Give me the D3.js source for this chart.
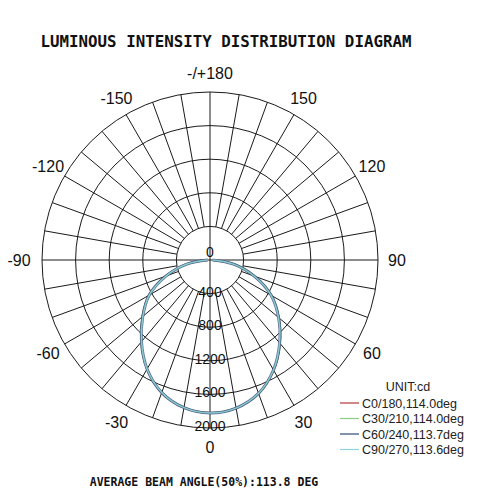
<!DOCTYPE html>
<html>
<head>
<meta charset="utf-8">
<script src="https://cdn.jsdelivr.net/npm/d3@7"></script>
<style>
    body { margin: 0; background: #fff; }
    svg { display: block; }
</style>
</head>
<body>
<div id="chart"></div>
<script>
// angles are measured from nadir (0 = straight down), positive to the right
const angles = [-90, -80, -70, -60, -50, -40, -30, -20, -10, 0, 10, 20, 30, 40, 50, 60, 70, 80, 90];
const c0_180  = [30, 285, 560, 840, 1050, 1275, 1500, 1680, 1785, 1820, 1790, 1690, 1515, 1295, 1070, 845, 565, 290, 35];
const c30_210 = [30, 285, 560, 840, 1050, 1275, 1500, 1680, 1785, 1820, 1790, 1690, 1515, 1295, 1070, 845, 565, 290, 35];
const c60_240 = [25, 280, 555, 835, 1045, 1270, 1498, 1680, 1785, 1822, 1790, 1690, 1512, 1290, 1065, 840, 560, 285, 30];
const c90_270 = [25, 278, 553, 833, 1043, 1268, 1498, 1678, 1785, 1822, 1790, 1688, 1512, 1288, 1063, 838, 558, 282, 30];

const seriesNames = ['C0/180,114.0deg', 'C30/210,114.0deg', 'C60/240,113.7deg', 'C90/270,113.6deg'];
const seriesColors = ['#b8383a', '#8ccb86', '#33487a', '#8fd4dc'];
const seriesValues = [c0_180, c30_210, c60_240, c90_270];

const ringValues = [400, 800, 1200, 1600, 2000];
const angleLabels = [
    {a: 180, t: '-/+180'}, {a: 150, t: '150'}, {a: -150, t: '-150'},
    {a: 120, t: '120'}, {a: -120, t: '-120'}, {a: 90, t: '90'}, {a: -90, t: '-90'},
    {a: 60, t: '60'}, {a: -60, t: '-60'}, {a: 30, t: '30'}, {a: -30, t: '-30'}, {a: 0, t: '0'}
];

////////////////////////////////////////////////////////
const width = 478, height = 493;
const cx = 210, cy = 260;
const R = 168;

const svg = d3.select('#chart')
    .append('svg')
        .attr('width', width)
        .attr('height', height);

// radius scale
const r = d3.scaleLinear()
    .domain([0, 2000])
    .range([0, R]);

// deg from nadir -> d3 radial angle (0 = up, clockwise)
const toRad = d => Math.PI - d * Math.PI / 180;
const px = (a, rr) => cx + rr * Math.sin(a * Math.PI / 180);
const py = (a, rr) => cy + rr * Math.cos(a * Math.PI / 180);

const grid = svg.append('g')
    .attr('stroke', '#1a1a1a')
    .attr('stroke-width', 1)
    .attr('fill', 'none');

// rings
grid.selectAll('circle')
    .data(ringValues)
    .enter().append('circle')
    .attr('cx', cx)
    .attr('cy', cy)
    .attr('r', d => r(d));

// spokes every 10 deg, starting at first ring (main axes go through centre)
grid.selectAll('.spoke')
    .data(d3.range(0, 360, 10))
    .enter().append('line')
    .attr('class', 'spoke')
    .attr('x1', d => px(d, d % 90 === 0 ? 0 : r(ringValues[0])))
    .attr('y1', d => py(d, d % 90 === 0 ? 0 : r(ringValues[0])))
    .attr('x2', d => px(d, R))
    .attr('y2', d => py(d, R));

// curves
const line = d3.lineRadial()
    .angle((d, i) => toRad(angles[i]))
    .radius(d => r(d))
    .curve(d3.curveCatmullRom);

const curves = svg.append('g')
    .attr('transform', 'translate(' + cx + ',' + cy + ')');

curves.selectAll('path')
    .data(seriesValues)
    .enter().append('path')
    .attr('d', d => line(d))
    .attr('fill', 'none')
    .attr('stroke', (d, i) => seriesColors[i])
    .attr('stroke-width', (d, i) => [2, 2, 3, 1.5][i])
    .attr('opacity', (d, i) => i === 2 ? 0.75 : 0.9);

// ring labels
svg.append('text')
    .attr('x', cx)
    .attr('y', cy - 3)
    .text('0')
    .style('text-anchor', 'middle')
    .style('font-family', 'Liberation Sans, Arial')
    .style('font-size', '14px')
    .style('fill', '#111');

svg.selectAll('.ringlabel')
    .data(ringValues)
    .enter().append('text')
    .attr('class', 'ringlabel')
    .attr('x', cx)
    .attr('y', d => cy + r(d) + 3)
    .text(d => d)
    .style('text-anchor', 'middle')
    .style('font-family', 'Liberation Sans, Arial')
    .style('font-size', '14px')
    .style('fill', '#111');

// angle labels
svg.selectAll('.anglabel')
    .data(angleLabels)
    .enter().append('text')
    .attr('class', 'anglabel')
    .attr('x', d => px(d.a, 187) - (d.a === -90 ? 4 : 0))
    .attr('y', d => py(d.a, 187))
    .attr('dy', '0.36em')
    .text(d => d.t)
    .style('text-anchor', 'middle')
    .style('font-family', 'Liberation Sans, Arial')
    .style('font-size', '16px')
    .style('fill', '#111');

// title
svg.append('text')
    .attr('x', 226)
    .attr('y', 47)
    .text('LUMINOUS INTENSITY DISTRIBUTION DIAGRAM')
    .style('text-anchor', 'middle')
    .style('font-family', 'DejaVu Sans Mono')
    .style('font-weight', 'bold')
    .style('font-size', '15.8px')
    .style('fill', '#111');

svg.append('text')
    .attr('x', 204)
    .attr('y', 486)
    .text('AVERAGE BEAM ANGLE(50%):113.8 DEG')
    .style('text-anchor', 'middle')
    .style('font-family', 'DejaVu Sans Mono')
    .style('font-weight', 'bold')
    .style('font-size', '11.5px')
    .style('fill', '#111');

// legend
const legend = svg.append('g')
    .style('font-family', 'Liberation Sans, Arial')
    .style('font-size', '12.5px');

legend.append('text')
    .attr('x', 408)
    .attr('y', 391)
    .text('UNIT:cd')
    .style('text-anchor', 'middle')
    .style('fill', '#222');

const items = legend.selectAll('.item')
    .data(seriesNames)
    .enter().append('g')
    .attr('class', 'item')
    .attr('transform', (d, i) => 'translate(340,' + (403 + i * 15.5) + ')');

items.append('line')
    .attr('x1', 0).attr('x2', 19)
    .attr('y1', 0).attr('y2', 0)
    .attr('stroke', (d, i) => seriesColors[i])
    .attr('stroke-width', 1.2);

items.append('text')
    .attr('x', 22)
    .attr('dy', '0.36em')
    .text(d => d)
    .style('fill', '#222');
</script>
</body>
</html>
